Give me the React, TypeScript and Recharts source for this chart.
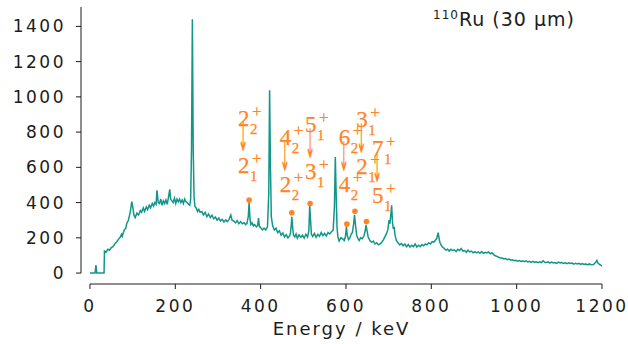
import { ComposedChart, Line, Scatter, XAxis, YAxis, ReferenceLine } from "recharts";

// gamma spectrum: [energy keV, counts]
const spectrum: [number, number][] = [
  [0, 0], [5, 0], [12, 0], [14, 45], [16, 0], [30, 0], [33, 0], [34, 125], [38, 120], [42, 135],
  [46, 130], [50, 145], [54, 150], [58, 165], [62, 175], [66, 190], [70, 200], [74, 220], [76, 210], [80, 244],
  [84, 255], [86, 280], [90, 300], [94, 340], [98, 405], [100, 380], [103, 330], [106, 315], [110, 340], [114, 330],
  [118, 355], [121, 345], [125, 370], [128, 350], [132, 375], [135, 360], [139, 385], [142, 370], [146, 395], [149, 380],
  [152, 400], [155, 390], [157, 470], [160, 400], [163, 395], [166, 420], [169, 385], [172, 410], [175, 395], [178, 415],
  [181, 390], [184, 430], [187, 475], [189, 420], [192, 410], [195, 400], [198, 425], [201, 395], [204, 420], [207, 405],
  [210, 420], [213, 400], [216, 415], [219, 395], [222, 420], [225, 405], [228, 400], [231, 390], [234, 385], [236, 420],
  [238, 700], [240, 1440], [242, 700], [244, 430], [246, 378], [249, 370], [252, 350], [255, 362], [258, 345], [262, 350],
  [266, 330], [270, 345], [274, 320], [278, 335], [282, 315], [286, 328], [290, 308], [294, 318], [298, 300], [302, 312],
  [306, 295], [310, 305], [314, 290], [318, 302], [322, 292], [326, 305], [330, 330], [333, 300], [337, 295], [341, 285],
  [345, 298], [349, 280], [353, 292], [357, 280], [361, 286], [365, 275], [368, 282], [371, 320], [373, 400], [375, 310],
  [377, 275], [380, 285], [383, 268], [386, 275], [390, 262], [393, 270], [395, 312], [397, 265], [400, 258], [404, 245],
  [408, 255], [412, 245], [416, 262], [419, 450], [421, 1037], [423, 600], [425, 320], [428, 270], [432, 245], [436, 255],
  [440, 230], [444, 240], [448, 215], [452, 228], [456, 205], [460, 218], [464, 200], [468, 212], [470, 228], [472, 280],
  [473, 320], [475, 260], [477, 215], [480, 205], [483, 222], [486, 198], [490, 218], [494, 203], [498, 215], [502, 198],
  [506, 220], [510, 205], [513, 240], [515, 385], [517, 300], [519, 220], [522, 208], [526, 225], [530, 203], [534, 220],
  [538, 208], [542, 230], [546, 212], [550, 225], [554, 210], [558, 230], [562, 222], [566, 235], [570, 245], [573, 380],
  [575, 659], [577, 450], [579, 260], [581, 205], [584, 182], [588, 200], [592, 195], [596, 185], [599, 210], [601, 262],
  [603, 215], [606, 190], [609, 200], [612, 220], [615, 230], [618, 280], [620, 330], [622, 280], [625, 215], [628, 195],
  [631, 185], [634, 200], [638, 195], [642, 210], [645, 240], [647, 272], [649, 245], [652, 205], [656, 185], [660, 175],
  [664, 182], [668, 165], [672, 172], [676, 160], [680, 166], [684, 175], [688, 190], [692, 210], [695, 225], [698, 245],
  [701, 300], [703, 280], [705, 330], [707, 385], [709, 290], [711, 250], [713, 262], [715, 215], [718, 185], [722, 172],
  [726, 160], [730, 168], [734, 155], [738, 165], [742, 150], [746, 162], [750, 148], [754, 158], [758, 150], [762, 165],
  [766, 148], [770, 158], [774, 150], [778, 162], [782, 155], [786, 165], [790, 160], [794, 172], [798, 165], [802, 178],
  [806, 175], [810, 188], [813, 198], [816, 230], [818, 200], [820, 175], [823, 158], [826, 148], [830, 140], [834, 130],
  [838, 135], [842, 125], [846, 135], [850, 128], [854, 132], [858, 122], [862, 135], [866, 128], [870, 140], [874, 125],
  [878, 128], [882, 118], [886, 130], [890, 120], [894, 125], [898, 115], [902, 122], [906, 115], [910, 120], [914, 112],
  [918, 122], [922, 112], [926, 118], [930, 114], [934, 120], [938, 110], [942, 116], [946, 105], [950, 98], [954, 95],
  [958, 90], [962, 86], [966, 85], [970, 80], [974, 82], [978, 76], [982, 80], [986, 73], [990, 75], [994, 70],
  [998, 73], [1002, 68], [1006, 71], [1010, 66], [1014, 70], [1018, 65], [1022, 69], [1026, 63], [1030, 67], [1034, 61],
  [1038, 66], [1042, 61], [1046, 64], [1050, 59], [1054, 64], [1058, 60], [1062, 70], [1066, 61], [1070, 60], [1074, 64],
  [1078, 57], [1082, 62], [1086, 57], [1090, 60], [1094, 55], [1098, 62], [1102, 57], [1106, 60], [1110, 55], [1114, 58],
  [1118, 53], [1122, 58], [1126, 54], [1130, 57], [1134, 51], [1138, 56], [1142, 52], [1146, 55], [1150, 49], [1154, 54],
  [1158, 49], [1162, 52], [1166, 47], [1170, 52], [1174, 49], [1178, 47], [1182, 52], [1186, 65], [1188, 72], [1190, 58],
  [1194, 50], [1198, 44], [1200, 40],
];

// marked transitions
const peakEnergies = [373, 473, 516, 602, 621, 648];
const peakMarks = [414, 342, 395, 278, 351, 292];
const labelEnergies = [347, 445, 504, 583, 624, 661];
const labelCounts = [706, 598, 669, 598, 697, 533];
const labelFrom = [["2", "2"], ["4", "2"], ["5", "1"], ["6", "2"], ["3", "1"], ["7", "1"]];
const labelTo = [["2", "1"], ["2", "2"], ["3", "1"], ["4", "2"], ["2", "1"], ["5", "1"]];

const xTicks = [0, 200, 400, 600, 800, 1000, 1200];
const yTicks = [0, 200, 400, 600, 800, 1000, 1200, 1400];

const TEAL = "#12968a";
const ORANGE = "#ff8425";
const INK = "#1c1c1c";
const SANS = "DejaVu Sans";
const SERIF = "'Liberation Serif', 'DejaVu Serif', serif";

const lineData = spectrum.map(([energy, counts]) => ({ energy, counts }));
const dotData = peakEnergies.map((energy, i) => ({ energy, counts: peakMarks[i] }));
const labelData = labelEnergies.map((energy, i) => ({
  energy,
  counts: labelCounts[i],
  from: labelFrom[i],
  to: labelTo[i],
}));

const serif = (size: number) => ({
  fontFamily: SERIF,
  fontSize: size,
  fill: ORANGE,
  stroke: ORANGE,
  strokeWidth: 0.25,
});

function State({ x, y, s }: { x: number; y: number; s: string[] }) {
  return (
    <g>
      <text x={x} y={y} style={serif(23)}>{s[0]}</text>
      <text x={x + 12} y={y + 8} style={serif(15)}>{s[1]}</text>
      <text x={x + 14} y={y - 9} style={serif(17)}>+</text>
    </g>
  );
}

function TransitionLabel(props: any) {
  const { cx, cy, payload } = props;
  return (
    <g>
      <State x={cx} y={cy - 23} s={payload.from} />
      <text
        transform={`translate(${cx},${cy + 2.8}) scale(0.55,1.85)`}
        style={{ fontFamily: "DejaVu Sans", fontSize: 22, fill: ORANGE }}
      >
        {"\u2193\uFE0E"}
      </text>
      <State x={cx} y={cy + 24} s={payload.to} />
    </g>
  );
}

function PeakDot(props: any) {
  return <circle cx={props.cx} cy={props.cy} r={2.8} fill={ORANGE} />;
}

export default function App() {
  const tickStyle = { fill: INK, fontSize: 17, fontFamily: SANS, letterSpacing: 2.5 };
  return (
    <div style={{ position: "absolute", left: 0, top: 0, width: 628, height: 344, background: "#fff" }}>
      <ComposedChart width={628} height={344} margin={{ top: 7, right: 26, left: 0, bottom: 0 }}>
        <XAxis
          type="number"
          dataKey="energy"
          domain={[-21, 1200]}
          ticks={xTicks}
          allowDataOverflow
          axisLine={false}
          tickLine={{ stroke: INK }}
          tickSize={5}
          tickMargin={11}
          height={60}
          tick={tickStyle}
          label={{
            value: "Energy / keV",
            position: "insideBottom",
            offset: 9,
            fill: INK,
            fontSize: 18,
            fontFamily: SANS,
            letterSpacing: 2,
          }}
        />
        <YAxis
          type="number"
          domain={[-62, 1510]}
          ticks={yTicks}
          allowDataOverflow
          axisLine={false}
          tickLine={{ stroke: INK }}
          tickSize={5}
          tickMargin={10}
          width={81}
          tick={tickStyle}
        />
        <ReferenceLine segment={[{ x: 0, y: -62 }, { x: 1200, y: -62 }]} stroke={INK} strokeWidth={1} ifOverflow="visible" />
        <ReferenceLine segment={[{ x: -21, y: 0 }, { x: -21, y: 1510 }]} stroke={INK} strokeWidth={1} ifOverflow="visible" />
        <Line
          data={lineData}
          dataKey="counts"
          type="linear"
          stroke={TEAL}
          strokeWidth={1.5}
          dot={false}
          isAnimationActive={false}
        />
        <Scatter data={dotData} dataKey="counts" shape={PeakDot} isAnimationActive={false} />
        <Scatter data={labelData} dataKey="counts" shape={TransitionLabel} isAnimationActive={false} />
      </ComposedChart>
      <div
        style={{
          position: "absolute",
          left: 433,
          top: 7,
          fontFamily: SANS,
          fontSize: 19,
          letterSpacing: 1,
          color: INK,
          lineHeight: "24px",
          whiteSpace: "nowrap",
        }}
      >
        <sup style={{ fontSize: 12, verticalAlign: "7px", lineHeight: 0 }}>110</sup>Ru (30 µm)
      </div>
    </div>
  );
}
